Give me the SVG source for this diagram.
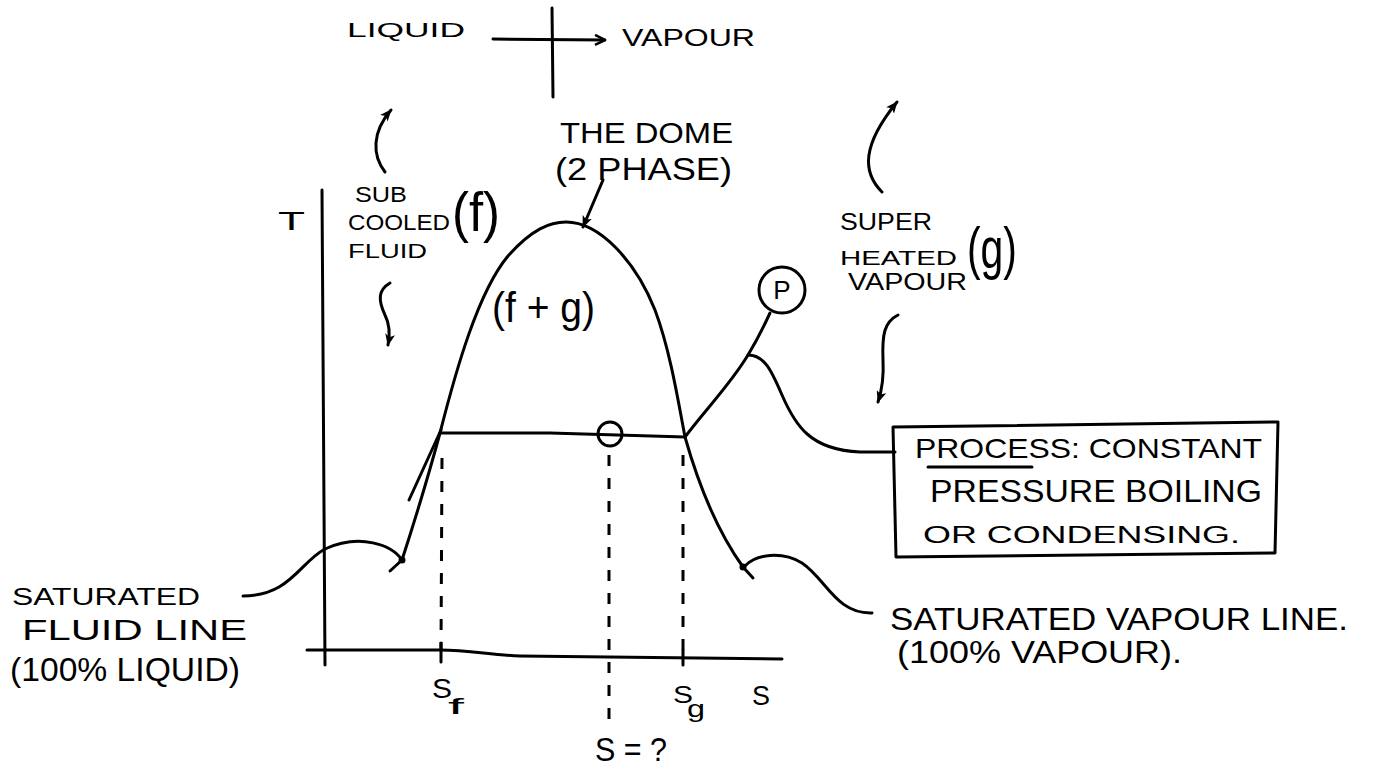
<svg xmlns="http://www.w3.org/2000/svg" width="1375" height="767" viewBox="0 0 1375 767">
<defs>
<style>
.ln{fill:none;stroke:#000;stroke-width:3;stroke-linecap:round;stroke-linejoin:round}
.ds{fill:none;stroke:#000;stroke-width:3;stroke-dasharray:11 12}
.t{font-family:"Liberation Sans","DejaVu Sans",sans-serif;fill:#000}
</style>
<marker id="ah" viewBox="0 0 12 10" refX="11" refY="5" markerWidth="12" markerHeight="10" markerUnits="userSpaceOnUse" orient="auto">
<path d="M0,0 L12,5 L0,10 L3,5 Z" fill="#000"/>
</marker>
<marker id="av" viewBox="0 0 12 12" refX="11" refY="6" markerWidth="12" markerHeight="12" markerUnits="userSpaceOnUse" orient="auto">
<path d="M1,1 L11,6 L1,11" fill="none" stroke="#000" stroke-width="2.5"/>
</marker>
</defs>
<rect width="1375" height="767" fill="#fff"/>

<g id="connectors">
<!-- top phase arrow -->
<path class="ln" d="M493,39 L605,40" marker-end="url(#av)"/>
<path class="ln" d="M552,8 L553,97"/>
<!-- curved arrows -->
<path class="ln" d="M385,172 C372,155 372,132 391,110" marker-end="url(#ah)"/>
<path class="ln" d="M390,283 C378,290 378,300 385,315 C390,325 390,335 388,345" marker-end="url(#ah)"/>
<path class="ln" d="M882,192 C862,172 862,145 897,102" marker-end="url(#ah)"/>
<path class="ln" d="M898,315 C884,322 882,335 883,360 C884,378 882,390 878,402" marker-end="url(#ah)"/>
<path class="ln" d="M603,180 L583,227" marker-end="url(#ah)"/>
<!-- leader lines -->
<path class="ln" d="M243,596 C290,596 300,562 325,549 C360,533 392,545 402,560"/>
<path class="ln" d="M745,566 C756,554 782,551 802,563 C826,579 836,614 872,613"/>
<path class="ln" d="M748,355 C765,355 772,372 782,395 C795,425 810,450 860,452 L895,452"/>
</g>

<g id="axes">
<path class="ln" d="M322,190 L325,665"/>
<path class="ln" d="M307,650 L440,650 C470,650 490,655 520,656 L782,659"/>
<path class="ln" d="M441,643 L441,662"/>
<path class="ln" d="M683,650 L683,665"/>
<text class="t" x="278" y="230" font-size="25" textLength="27" lengthAdjust="spacingAndGlyphs">T</text>
<text class="t" x="752" y="705" font-size="28" textLength="18" lengthAdjust="spacingAndGlyphs">S</text>
</g>

<g id="dome">
<path class="ln" d="M402,560 C415,520 430,470 440,433 C456,370 478,292 508,256 C532,229 550,222 566,222 C600,222 636,262 655,310 C670,350 678,400 685,437 C700,490 720,535 743,567"/>
<path class="ln" d="M409,500 L441,430"/>
<circle cx="402" cy="560" r="3.5" fill="#000"/>
<path class="ln" d="M402,560 L390,571"/>
<circle cx="743" cy="567" r="3.5" fill="#000"/>
<path class="ln" d="M743,567 L753,578"/>
<text class="t" x="560" y="143" font-size="30" textLength="173" lengthAdjust="spacingAndGlyphs">THE DOME</text>
<text class="t" x="555" y="180" font-size="31" textLength="177" lengthAdjust="spacingAndGlyphs">(2 PHASE)</text>
<text class="t" x="492" y="322" font-size="42" textLength="103" lengthAdjust="spacingAndGlyphs">(f + g)</text>
</g>

<g id="process-line">
<path class="ln" d="M440,433 L550,433 L685,437"/>
<circle class="ln" cx="610" cy="434" r="12"/>
<path class="ln" d="M685,437 C705,410 730,385 748,355 C757,340 764,326 770,313"/>
</g>

<g id="dashes">
<path class="ds" d="M442,458 L441,650"/>
<path class="ds" d="M609,455 L609,724"/>
<path class="ds" d="M683,455 L683,650"/>
</g>

<g id="p-node">
<circle class="ln" cx="782" cy="290" r="23"/>
<text class="t" x="782" y="299" font-size="26" text-anchor="middle">P</text>
</g>

<g id="top-labels">
<text class="t" x="347" y="37" font-size="21" textLength="118" lengthAdjust="spacingAndGlyphs">LIQUID</text>
<text class="t" x="622" y="46" font-size="24" textLength="133" lengthAdjust="spacingAndGlyphs">VAPOUR</text>
</g>

<g id="subcooled">
<text class="t" x="355" y="202" font-size="22" textLength="52" lengthAdjust="spacingAndGlyphs">SUB</text>
<text class="t" x="348" y="230" font-size="22" textLength="102" lengthAdjust="spacingAndGlyphs">COOLED</text>
<text class="t" x="348" y="258" font-size="20" textLength="79" lengthAdjust="spacingAndGlyphs">FLUID</text>
<text class="t" x="452" y="231" font-size="56" textLength="48" lengthAdjust="spacingAndGlyphs">(f)</text>
</g>

<g id="superheated">
<text class="t" x="840" y="230" font-size="24" textLength="92" lengthAdjust="spacingAndGlyphs">SUPER</text>
<text class="t" x="840" y="265" font-size="21" textLength="117" lengthAdjust="spacingAndGlyphs">HEATED</text>
<text class="t" x="848" y="290" font-size="24" textLength="119" lengthAdjust="spacingAndGlyphs">VAPOUR</text>
<text class="t" x="967" y="268" font-size="58" textLength="50" lengthAdjust="spacingAndGlyphs">(g)</text>
</g>

<g id="process-box">
<path class="ln" d="M893,427 L1278,422 L1275,553 L896,557 Z"/>
<text class="t" x="915" y="458" font-size="28" textLength="347" lengthAdjust="spacingAndGlyphs">PROCESS: CONSTANT</text>
<path class="ln" d="M928,467 L1032,467"/>
<text class="t" x="930" y="502" font-size="32" textLength="332" lengthAdjust="spacingAndGlyphs">PRESSURE BOILING</text>
<text class="t" x="923" y="543" font-size="23" textLength="317" lengthAdjust="spacingAndGlyphs">OR CONDENSING.</text>
</g>

<g id="sat-fluid-label">
<text class="t" x="12" y="605" font-size="24" textLength="188" lengthAdjust="spacingAndGlyphs">SATURATED</text>
<text class="t" x="22" y="640" font-size="30" textLength="225" lengthAdjust="spacingAndGlyphs">FLUID   LINE</text>
<text class="t" x="10" y="681" font-size="34" textLength="230" lengthAdjust="spacingAndGlyphs">(100% LIQUID)</text>
</g>

<g id="sat-vapour-label">
<text class="t" x="890" y="630" font-size="32" textLength="458" lengthAdjust="spacingAndGlyphs">SATURATED VAPOUR LINE.</text>
<text class="t" x="897" y="663" font-size="32" textLength="285" lengthAdjust="spacingAndGlyphs">(100% VAPOUR).</text>
</g>

<g id="s-labels">
<text class="t" x="432" y="698" font-size="27" textLength="20" lengthAdjust="spacingAndGlyphs">S</text>
<text class="t" x="448" y="714" font-size="22" textLength="16" lengthAdjust="spacingAndGlyphs">f</text>
<text class="t" x="673" y="703" font-size="23" textLength="20" lengthAdjust="spacingAndGlyphs">S</text>
<text class="t" x="687" y="717" font-size="24" textLength="18" lengthAdjust="spacingAndGlyphs">g</text>
<text class="t" x="595" y="761" font-size="34" textLength="72" lengthAdjust="spacingAndGlyphs">S = ?</text>
</g>
</svg>
